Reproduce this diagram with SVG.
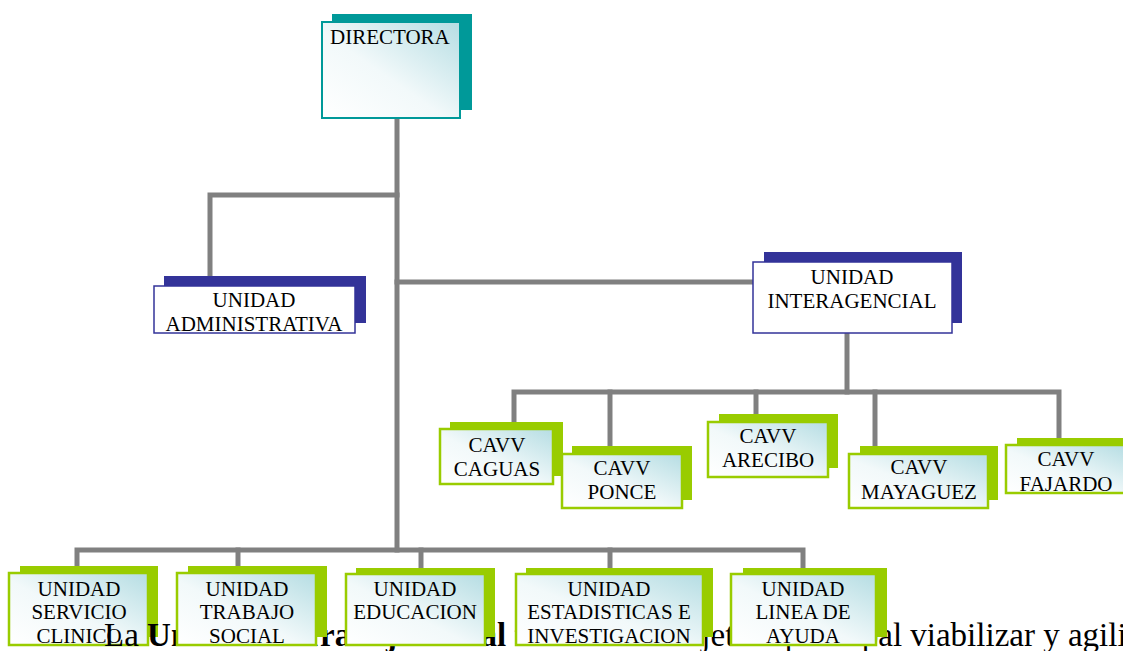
<svg xmlns="http://www.w3.org/2000/svg" width="1123" height="651" viewBox="0 0 1123 651">
<defs>
<linearGradient id="g" x1="0" y1="1" x2="1" y2="0">
<stop offset="0" stop-color="#ffffff"/>
<stop offset="0.45" stop-color="#f2f9fa"/>
<stop offset="1" stop-color="#b5dde3"/>
</linearGradient>
<style>
.conn{stroke:#808080;stroke-width:5;fill:none;stroke-linecap:square}
.shT{fill:#009999}
.frT{fill:url(#g);stroke:#009999;stroke-width:2}
.shN{fill:#333399}
.frN{fill:#ffffff;stroke:#333399;stroke-width:1.5}
.shG{fill:#99cc00}
.frG{fill:url(#g);stroke:#99cc00;stroke-width:2.5}
.t{font-family:"Liberation Serif","Times New Roman",serif;font-size:21px;fill:#000;text-anchor:middle}
.p{font-family:"Liberation Serif","Times New Roman",serif;font-size:33px;fill:#000}
</style>
</defs>
<rect width="1123" height="651" fill="#ffffff"/>
<g id="connectors">
<path class="conn" d="M397,118 V550"/>
<path class="conn" d="M397,195 H210 V276"/>
<path class="conn" d="M397,282 H753"/>
<path class="conn" d="M847,333 V392"/>
<path class="conn" d="M514,422 V392 H1059 V438"/>
<path class="conn" d="M610,392 V446"/>
<path class="conn" d="M756,392 V414"/>
<path class="conn" d="M875,392 V446"/>
<path class="conn" d="M77,566 V550 H803 V568"/>
<path class="conn" d="M238,550 V566"/>
<path class="conn" d="M421,550 V568"/>
<path class="conn" d="M610,550 V568"/>
</g>
<g id="unidad-servicio-clinico">
<rect class="shG" x="20" y="566" width="138" height="71"/>
<rect class="frG" x="9" y="573" width="139" height="72"/>
<text class="t" x="79" y="596">UNIDAD</text>
<text class="t" x="79" y="619">SERVICIO</text>
<text class="t" x="79" y="643">CLINICO</text>
</g>
<text class="p" x="104" y="646">La <tspan font-weight="bold">Unidad de Trabajo Social</tspan> tiene como objetivo principal viabilizar y agili</text>
<g id="directora">
<rect class="shT" x="332" y="14" width="140" height="96"/>
<rect class="frT" x="322" y="22" width="138" height="96"/>
<text class="t" x="330" y="44" style="text-anchor:start">DIRECTORA</text>
</g>
<g id="unidad-administrativa">
<rect class="shN" x="164" y="276" width="202" height="47"/>
<rect class="frN" x="154" y="286" width="201" height="47"/>
<text class="t" x="254" y="307">UNIDAD</text>
<text class="t" x="254" y="331">ADMINISTRATIVA</text>
</g>
<g id="unidad-interagencial">
<rect class="shN" x="764" y="252" width="198" height="71"/>
<rect class="frN" x="753" y="262" width="199" height="71"/>
<text class="t" x="852" y="284">UNIDAD</text>
<text class="t" x="852" y="308">INTERAGENCIAL</text>
</g>
<g id="cavv-caguas">
<rect class="shG" x="450" y="422" width="113" height="54"/>
<rect class="frG" x="440" y="429" width="113" height="55"/>
<text class="t" x="497" y="452">CAVV</text>
<text class="t" x="497" y="476">CAGUAS</text>
</g>
<g id="cavv-ponce">
<rect class="shG" x="572" y="446" width="120" height="54"/>
<rect class="frG" x="562" y="454" width="120" height="54"/>
<text class="t" x="622" y="475">CAVV</text>
<text class="t" x="622" y="499">PONCE</text>
</g>
<g id="cavv-arecibo">
<rect class="shG" x="719" y="414" width="119" height="54"/>
<rect class="frG" x="708" y="422" width="120" height="55"/>
<text class="t" x="768" y="443">CAVV</text>
<text class="t" x="768" y="467">ARECIBO</text>
</g>
<g id="cavv-mayaguez">
<rect class="shG" x="860" y="446" width="138" height="54"/>
<rect class="frG" x="849" y="454" width="139" height="54"/>
<text class="t" x="919" y="474">CAVV</text>
<text class="t" x="919" y="499">MAYAGUEZ</text>
</g>
<g id="cavv-fajardo">
<rect class="shG" x="1017" y="438" width="120" height="48"/>
<rect class="frG" x="1006" y="445" width="120" height="48"/>
<text class="t" x="1066" y="466">CAVV</text>
<text class="t" x="1066" y="491">FAJARDO</text>
</g>
<g id="unidad-trabajo-social">
<rect class="shG" x="188" y="566" width="139" height="71"/>
<rect class="frG" x="177" y="573" width="139" height="72"/>
<text class="t" x="247" y="596">UNIDAD</text>
<text class="t" x="247" y="619">TRABAJO</text>
<text class="t" x="247" y="643">SOCIAL</text>
</g>
<g id="unidad-educacion">
<rect class="shG" x="356" y="568" width="139" height="69"/>
<rect class="frG" x="346" y="574" width="139" height="71"/>
<text class="t" x="415" y="596">UNIDAD</text>
<text class="t" x="415" y="619">EDUCACION</text>
</g>
<g id="unidad-estadisticas">
<rect class="shG" x="526" y="568" width="187" height="69"/>
<rect class="frG" x="516" y="574" width="187" height="71"/>
<text class="t" x="609" y="596">UNIDAD</text>
<text class="t" x="609" y="619">ESTADISTICAS E</text>
<text class="t" x="609" y="643">INVESTIGACION</text>
</g>
<g id="unidad-linea-de-ayuda">
<rect class="shG" x="743" y="568" width="144" height="69"/>
<rect class="frG" x="731" y="574" width="145" height="71"/>
<text class="t" x="803" y="596">UNIDAD</text>
<text class="t" x="803" y="619">LINEA DE</text>
<text class="t" x="803" y="643">AYUDA</text>
</g>
</svg>
